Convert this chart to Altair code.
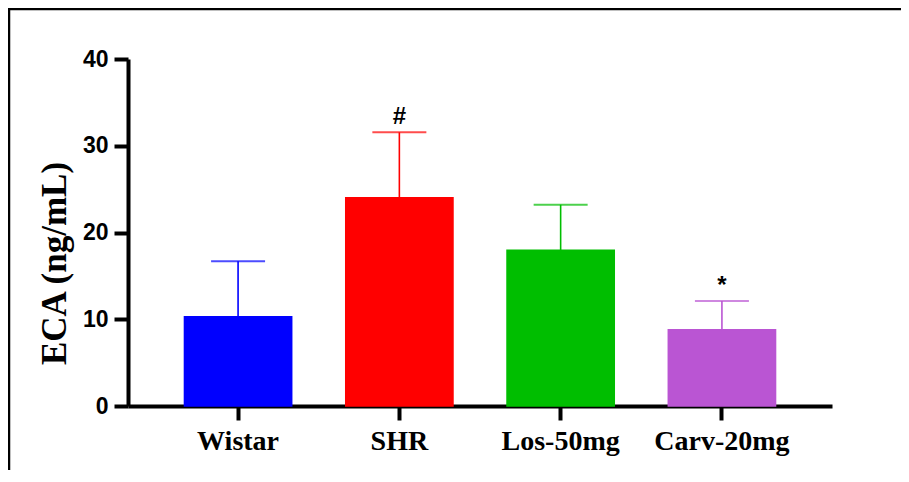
import altair as alt
import pandas as pd

categories = ["Wistar", "SHR", "Los-50mg", "Carv-20mg"]
means = [10.3, 24.0, 17.95, 8.8]
sd = [6.4, 7.55, 5.25, 3.3]
colors = ["#0000FF", "#FF0000", "#00BE00", "#BA55D3"]
marks = ["", "#", "", "*"]

df = pd.DataFrame({
    "group": categories,
    "mean": means,
    "upper": [m + s for m, s in zip(means, sd)],
    "mark": marks,
})

xenc = alt.X("group:N", sort=categories,
             scale=alt.Scale(paddingInner=0.335, paddingOuter=0.35),
             axis=alt.Axis(title=None, labelAngle=0, labelFont="Liberation Serif",
                           labelFontWeight="bold", labelFontSize=28, labelColor="black",
                           labelPadding=7, domainColor="black", domainWidth=4,
                           tickColor="black", tickWidth=4, tickSize=14))
color = alt.Color("group:N", sort=categories,
                  scale=alt.Scale(domain=categories, range=colors), legend=None)

base = alt.Chart(df)

bars = base.mark_bar(strokeWidth=1.5).encode(
    x=xenc,
    y=alt.Y("mean:Q", scale=alt.Scale(domain=[0, 40]),
            axis=alt.Axis(title="ECA (ng/mL)", values=[0, 10, 20, 30, 40], grid=False,
                          titleFont="Liberation Serif", titleFontWeight="bold",
                          titleFontSize=35, titleColor="black", titleX=-63, titleY=204,
                          titleBaseline="alphabetic",
                          labelFont="Liberation Sans", labelFontWeight="bold",
                          labelFontSize=23, labelColor="black", labelPadding=6,
                          domainColor="black", domainWidth=4,
                          tickColor="black", tickWidth=4, tickSize=14)),
    color=color,
    stroke=color,
)

err = base.mark_rule(strokeWidth=1.6).encode(
    x=alt.X("group:N", sort=categories),
    y="mean:Q",
    y2="upper:Q",
    color=color,
)

caps = base.mark_tick(orient="horizontal", size=54, thickness=2).encode(
    x=alt.X("group:N", sort=categories),
    y="upper:Q",
    color=color,
)

txt = base.mark_text(font="Liberation Sans", fontWeight="bold", fontSize=24,
                     baseline="alphabetic", dy=-8, color="black").encode(
    x=alt.X("group:N", sort=categories),
    y="upper:Q",
    text="mark:N",
)

frame_top = alt.Chart(pd.DataFrame({"a": [0]})).mark_rule(color="black", strokeWidth=2.5).encode(
    x=alt.value(-120), x2=alt.value(800), y=alt.value(-50))
frame_left = alt.Chart(pd.DataFrame({"a": [0]})).mark_rule(color="black", strokeWidth=2.5).encode(
    x=alt.value(-119), y=alt.value(-51), y2=alt.value(440))

chart = alt.layer(bars, err, caps, txt, frame_top, frame_left).properties(
    width=704, height=347,
    background="white",
    autosize=alt.AutoSizeParams(type="none"),
    padding={"left": 120, "top": 51, "right": 69, "bottom": 64},
).configure_view(strokeWidth=0)

chart.save("out.html", embed_options={"renderer": "svg", "actions": False})
